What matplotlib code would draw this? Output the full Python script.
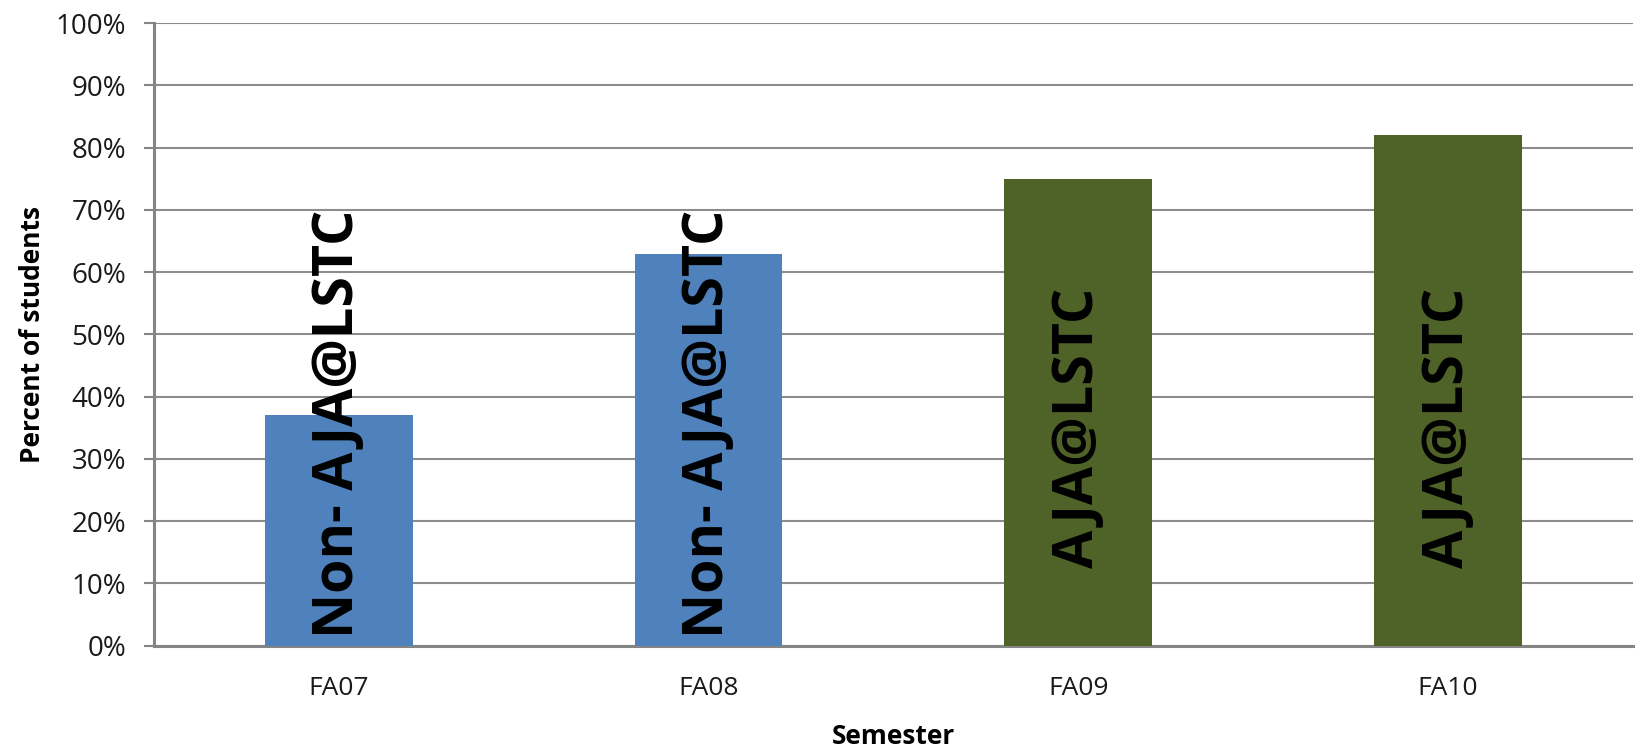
import matplotlib
matplotlib.use("Agg")
import matplotlib.pyplot as plt
import numpy as np

categories = ["FA07", "FA08", "FA09", "FA10"]
values = [37, 63, 75, 82]
bar_labels = ["Non- AJA@LSTC", "Non- AJA@LSTC", "AJA@LSTC", "AJA@LSTC"]
label_base = [1.3, 1.3, 12.4, 12.4]
colors = ["#4F81BD", "#4F81BD", "#4F6228", "#4F6228"]
yticks = list(range(0, 101, 10))

plt.rcParams['font.family'] = ['Open Sans', 'DejaVu Sans']

fig = plt.figure(figsize=(16.36, 7.49), dpi=100)
ax = fig.add_axes([0.0941, 0.138, 0.904, 0.831])

x = np.arange(len(categories))
ax.bar(x, values, width=0.4, color=colors, zorder=3)
for xi, lab, b in zip(x, bar_labels, label_base):
    ax.text(xi, b, lab, rotation=90, ha='center', va='bottom',
            fontsize=40, fontweight='bold', color='black', zorder=4)

ax.set_xlim(-0.5, len(categories) - 0.5)
ax.set_ylim(0, 100)
ax.set_yticks(yticks)
ax.set_yticklabels([f"{v}%" for v in yticks], fontsize=20, color='#1a1a1a')
ax.set_xticks(x)
ax.set_xticklabels(categories, fontsize=19, color='#1a1a1a')
ax.yaxis.grid(True, color='#8c8c8c', linewidth=1.5, zorder=0)
ax.set_axisbelow(True)

for s in ['top', 'right']:
    ax.spines[s].set_visible(False)
for s in ['left', 'bottom']:
    ax.spines[s].set_color('#858585')
    ax.spines[s].set_linewidth(2.2)

ax.tick_params(axis='y', length=7, width=1.5, color='#858585', pad=13)
ax.tick_params(axis='x', length=0, pad=22)

ax.set_ylabel("Percent of students", fontsize=19, fontweight='bold', labelpad=7)
ax.set_xlabel("Semester", fontsize=19, fontweight='bold', labelpad=16)

fig.savefig("out.png", dpi=100)
